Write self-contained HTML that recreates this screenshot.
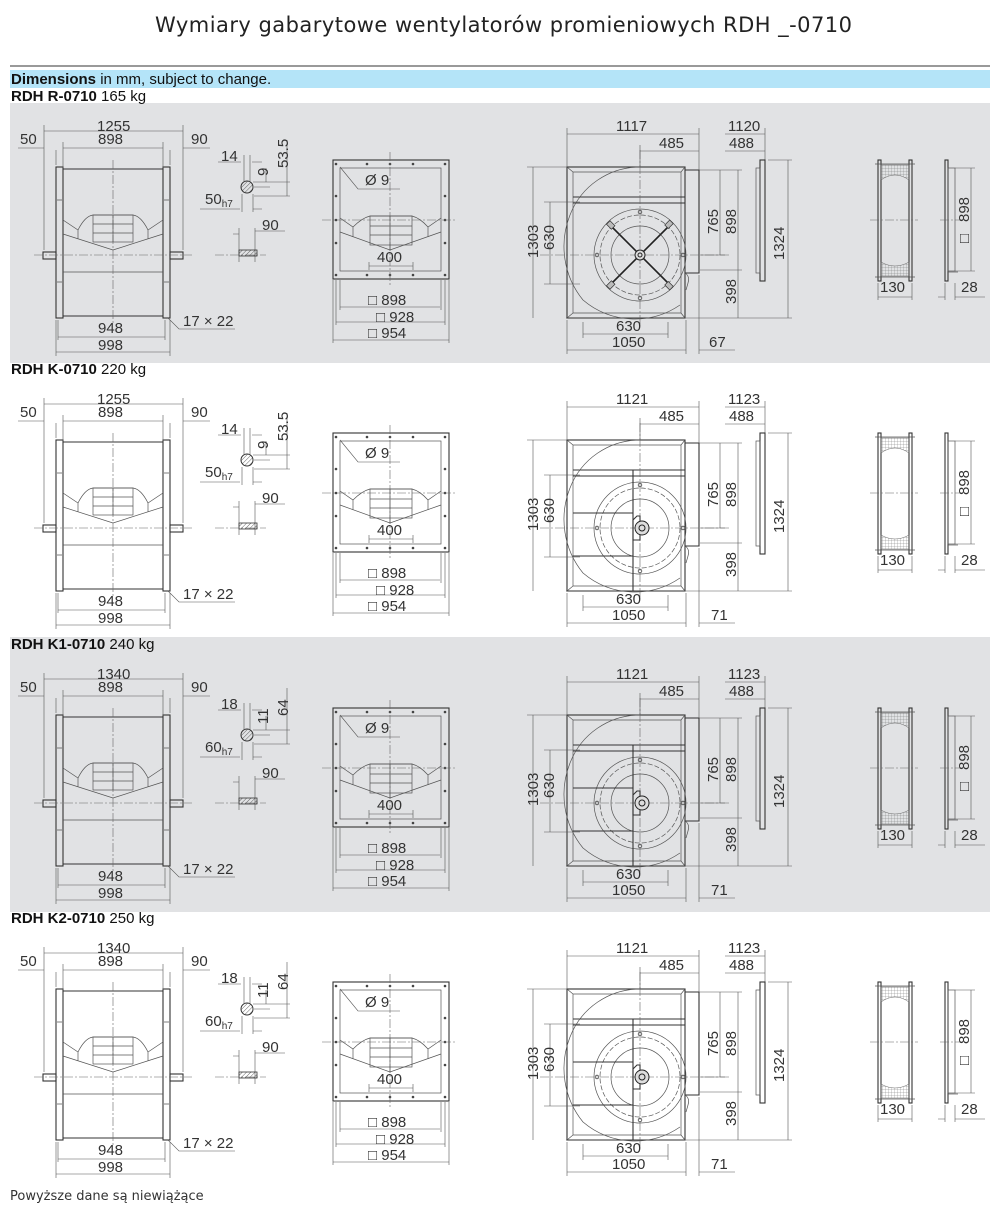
<!DOCTYPE html>
<html><head><meta charset="utf-8"><style>
html,body{margin:0;padding:0;background:#fff;}
svg{display:block;}
text{font-family:"Liberation Sans",Arial,sans-serif;fill:#333;font-size:15px;}
.t{font-family:"DejaVu Sans","Liberation Sans",sans-serif;font-size:21px;fill:#222;}
.h{font-size:15px;fill:#111;}
.l{stroke:#555;stroke-width:0.7;fill:none;}
.o{stroke:#333;stroke-width:1.1;fill:none;}
.c{stroke:#666;stroke-width:0.6;fill:none;stroke-dasharray:9 2 2 2;}
.d{stroke:#555;stroke-width:0.6;fill:none;}
</style></head><body>
<svg width="1000" height="1213" viewBox="0 0 1000 1213" xmlns="http://www.w3.org/2000/svg">
<defs>
<pattern id="m" width="3" height="3" patternUnits="userSpaceOnUse"><path d="M0,0H3M0,0V3" stroke="#777" stroke-width="0.5"/></pattern>
<pattern id="hh" width="3" height="3" patternUnits="userSpaceOnUse" patternTransform="rotate(45)"><path d="M0,0V3" stroke="#444" stroke-width="0.8"/></pattern>
<g id="L">
 <rect class="o" x="56" y="167" width="7" height="151"/>
 <rect class="o" x="163" y="167" width="7" height="151"/>
 <path class="o" d="M63,169H163M63,316H163"/>
 <path class="l" d="M63,272H163"/>
 <rect class="o" x="43" y="252" width="13" height="7"/>
 <rect class="o" x="170" y="252" width="13" height="7"/>
 <path class="c" d="M34,255H192M113,160V324"/>
 <path class="l" d="M63,220L78,230Q85,216 93,215H133Q141,216 148,230L163,220M63,234L113,250L163,234M78,230V239M148,230V239"/>
 <rect class="l" x="93" y="215" width="40" height="27"/>
 <path class="l" d="M93,224H133M93,233H133M113,215V242"/>
 <path class="l" d="M57,200h5M57,282h5M164,200h5M164,282h5"/>
 <path class="d" d="M44,131H183M63,148H163M18,148H44M183,148H210M44,125V250M183,125V250M63,142V168M163,142V168M56,150V165M170,150V165"/>
 <path class="d" d="M56,320V356M170,320V356M58,320V340M165,320V340M58,337H165M56,352H170"/>
 <path class="d" d="M168,318L179,329H235"/>
 <circle cx="247" cy="187" r="6" fill="url(#hh)" stroke="#333" stroke-width="1"/>
 <path class="d" d="M218,162H241M252,162H262M244,155V182M250,155V182M266,168V182M287,140V196M253,182H290M254,187H270M254,196H290"/>
 <path class="d" d="M200,209H240M242,194V212M253,194V212M253,209H262"/>
 <path class="d" d="M239,228V262M255,228V262M255,231H285M233,234H239"/>
 <rect x="239" y="250" width="18" height="6" fill="url(#hh)" stroke="#333" stroke-width="0.8"/>
 <path class="c" d="M215,255H266"/>
 <rect class="o" x="333" y="160" width="116" height="119"/>
 <rect class="l" x="340" y="168" width="101" height="103"/>
 <g fill="#444">
  <circle cx="336" cy="164" r="1.3"/><circle cx="367" cy="164" r="1.3"/><circle cx="390" cy="164" r="1.3"/><circle cx="413" cy="164" r="1.3"/><circle cx="445" cy="164" r="1.3"/>
  <circle cx="336" cy="275" r="1.3"/><circle cx="367" cy="275" r="1.3"/><circle cx="390" cy="275" r="1.3"/><circle cx="413" cy="275" r="1.3"/><circle cx="445" cy="275" r="1.3"/>
  <circle cx="336" cy="196" r="1.3"/><circle cx="336" cy="220" r="1.3"/><circle cx="336" cy="243" r="1.3"/>
  <circle cx="445" cy="196" r="1.3"/><circle cx="445" cy="220" r="1.3"/><circle cx="445" cy="243" r="1.3"/>
 </g>
 <path class="c" d="M322,220H455M390,152V285"/>
 <path class="l" d="M340,218L353,227Q362,218 370,216H412Q420,218 428,227L441,218M340,232L390,250L441,232M353,227V237M428,227V237"/>
 <rect class="l" x="370" y="216" width="42" height="29"/>
 <path class="l" d="M370,226H412M370,235H412M390,216V250"/>
 <path class="d" d="M340,167L358,189H400"/>
 <path class="d" d="M369,266H413M369,262V270M413,262V270M340,307H440M336,322H445M333,340H449M340,280V310M441,280V310M336,280V325M445,280V325M333,280V343M449,280V343"/>
</g>
<g id="R">
 <rect class="o" x="567" y="167" width="118" height="151"/>
 <path class="l" d="M573,172H681V313H573Z M567,167L573,172M685,167L681,172M567,318L573,313M685,318L681,313"/>
 <path class="o" d="M573,197H685M573,203H685"/>
 <path class="o" d="M685,170H699V273H685"/>
 <path class="l" d="M685,273Q690,276 688,283L686,290"/>
 <path class="l" d="M640,167A75,75 0 0 0 570,215A85,85 0 0 0 583,300A80,80 0 0 0 680,305"/>
 <circle class="l" cx="640" cy="255" r="46"/>
 <circle class="l" cx="640" cy="255" r="40" stroke-dasharray="5 2"/>
 <circle class="l" cx="640" cy="255" r="29"/>
 <g fill="none" stroke="#444" stroke-width="0.8">
  <circle cx="640" cy="212" r="1.8"/><circle cx="640" cy="298" r="1.8"/><circle cx="597" cy="255" r="1.8"/><circle cx="683" cy="255" r="1.8"/>
 </g>
 <path class="c" d="M540,255H730M640,150V325"/>
 <path class="d" d="M567,134H699M640,151H699M725,134H765M725,151H765M567,128V167M699,128V170M640,145V167M765,128V160"/>
 <path class="d" d="M533,167V318M527,167H567M550,202V284M544,202H580M544,284H580M720,170V255M700,255H725M738,170V318M699,170H742M700,270H742M788,160V318M768,160H792M566,318H792"/>
 <path class="d" d="M583,334H668M583,322V338M668,322V338M567,350H686M699,350H735M567,320V354M686,320V354M699,275V354"/>
 <rect class="o" x="760" y="160" width="5" height="121"/>
 <rect class="l" x="756" y="168" width="4" height="105"/>
 <rect class="o" x="878" y="160" width="3" height="121"/>
 <rect class="o" x="909" y="160" width="3" height="121"/>
 <path d="M881,165H909V180Q895,170 881,180Z" fill="url(#m)" stroke="#666" stroke-width="0.5"/>
 <path d="M881,276H909V262Q895,270 881,262Z" fill="url(#m)" stroke="#666" stroke-width="0.5"/>
 <path class="l" d="M875,164H915M875,277H915"/>
 <path class="c" d="M870,220H918"/>
 <path class="d" d="M878,283V300M912,283V300M878,297H912"/>
 <rect class="o" x="945" y="160" width="3" height="121"/>
 <rect class="l" x="948" y="168" width="7" height="103"/>
 <path class="l" d="M948,272H958"/>
 <path class="c" d="M940,220H960"/>
 <path class="d" d="M971,168V271M955,168H975M955,271H975M945,283V300M955,283V300M938,297H945M955,297H985"/>
</g>
<g id="XS"><path stroke="#222" stroke-width="1.6" d="M611,226L669,284M669,226L611,284"/><circle cx="640" cy="255" r="5" fill="#ddd" stroke="#222"/><circle cx="640" cy="255" r="2" fill="none" stroke="#222"/>
 <g fill="#bbb" stroke="#333" stroke-width="0.7"><rect x="607" y="222" width="7" height="5" transform="rotate(45 610 225)"/><rect x="666" y="222" width="7" height="5" transform="rotate(-45 669 225)"/><rect x="607" y="283" width="7" height="5" transform="rotate(-45 610 285)"/><rect x="666" y="283" width="7" height="5" transform="rotate(45 669 285)"/></g></g>
<g id="KB"><path class="o" d="M633,197V318M573,240H633M573,283H633"/><path class="o" d="M633,247L637,243H640V267H633Z"/><circle cx="642" cy="255" r="7" fill="#ddd" stroke="#222"/><circle cx="642" cy="255" r="3" fill="none" stroke="#222"/></g>
<g id="TC">
 <text x="20" y="144">50</text><text x="98" y="144">898</text><text x="191" y="144">90</text>
 <text x="98" y="333">948</text><text x="98" y="350">998</text><text x="183" y="326">17 × 22</text>
 <text x="262" y="230">90</text>
 <text x="365" y="185">Ø 9</text><text x="377" y="262">400</text>
 <text x="368" y="305">□ 898</text><text x="376" y="322">□ 928</text><text x="368" y="338">□ 954</text>
 <text x="659" y="148">485</text><text x="729" y="148">488</text>
 <text transform="translate(538,258) rotate(-90)">1303</text>
 <text transform="translate(554,250) rotate(-90)">630</text>
 <text transform="translate(718,234) rotate(-90)">765</text>
 <text transform="translate(736,234) rotate(-90)">898</text>
 <text transform="translate(784,260) rotate(-90)">1324</text>
 <text transform="translate(736,304) rotate(-90)">398</text>
 <text x="616" y="331">630</text><text x="612" y="347">1050</text>
 <text x="880" y="292">130</text><text x="961" y="292">28</text>
 <text transform="translate(969,222) rotate(-90)">898</text>
 <text transform="translate(969,243) rotate(-90)">□</text>
</g>
</defs>

<text class="t" x="155" y="32" textLength="697">Wymiary gabarytowe wentylatorów promieniowych RDH _-0710</text>
<line x1="10" y1="66" x2="990" y2="66" stroke="#333" stroke-width="1"/>
<rect x="10" y="70" width="980" height="18" fill="#b4e4f8"/>
<text class="h" x="11" y="84"><tspan font-weight="bold">Dimensions</tspan> in mm, subject to change.</text>

<rect x="10" y="103" width="980" height="260" fill="#e1e2e4"/>
<rect x="10" y="637" width="980" height="275" fill="#e1e2e4"/>

<g>
 <text class="h" x="11" y="101"><tspan font-weight="bold">RDH R-0710</tspan>  165 kg</text>
 <use href="#L"/><use href="#R"/><use href="#XS"/><use href="#TC"/>
 <text x="97" y="131">1255</text>
 <text x="221" y="161">14</text><text transform="translate(268,176) rotate(-90)">9</text><text transform="translate(288,168) rotate(-90)">53.5</text>
 <text x="205" y="204">50<tspan font-size="10" dy="3">h7</tspan></text>
 <text x="616" y="131">1117</text><text x="728" y="131">1120</text><text x="709" y="347">67</text>
</g>
<g transform="translate(0,273)">
 <text class="h" x="11" y="101"><tspan font-weight="bold">RDH K-0710</tspan>  220 kg</text>
 <use href="#L"/><use href="#R"/><use href="#KB"/><use href="#TC"/>
 <text x="97" y="131">1255</text>
 <text x="221" y="161">14</text><text transform="translate(268,176) rotate(-90)">9</text><text transform="translate(288,168) rotate(-90)">53.5</text>
 <text x="205" y="204">50<tspan font-size="10" dy="3">h7</tspan></text>
 <text x="616" y="131">1121</text><text x="728" y="131">1123</text><text x="711" y="347">71</text>
</g>
<g transform="translate(0,548)">
 <text class="h" x="11" y="101"><tspan font-weight="bold">RDH K1-0710</tspan>  240 kg</text>
 <use href="#L"/><use href="#R"/><use href="#KB"/><use href="#TC"/>
 <text x="97" y="131">1340</text>
 <text x="221" y="161">18</text><text transform="translate(268,176) rotate(-90)">11</text><text transform="translate(288,168) rotate(-90)">64</text>
 <text x="205" y="204">60<tspan font-size="10" dy="3">h7</tspan></text>
 <text x="616" y="131">1121</text><text x="728" y="131">1123</text><text x="711" y="347">71</text>
</g>
<g transform="translate(0,822)">
 <text class="h" x="11" y="101"><tspan font-weight="bold">RDH K2-0710</tspan>  250 kg</text>
 <use href="#L"/><use href="#R"/><use href="#KB"/><use href="#TC"/>
 <text x="97" y="131">1340</text>
 <text x="221" y="161">18</text><text transform="translate(268,176) rotate(-90)">11</text><text transform="translate(288,168) rotate(-90)">64</text>
 <text x="205" y="204">60<tspan font-size="10" dy="3">h7</tspan></text>
 <text x="616" y="131">1121</text><text x="728" y="131">1123</text><text x="711" y="347">71</text>
</g>

<text x="10" y="1200" style="font-family:'DejaVu Sans','Liberation Sans',sans-serif;font-size:13px;fill:#333">Powyższe dane są niewiążące</text>
</svg>
</body></html>
